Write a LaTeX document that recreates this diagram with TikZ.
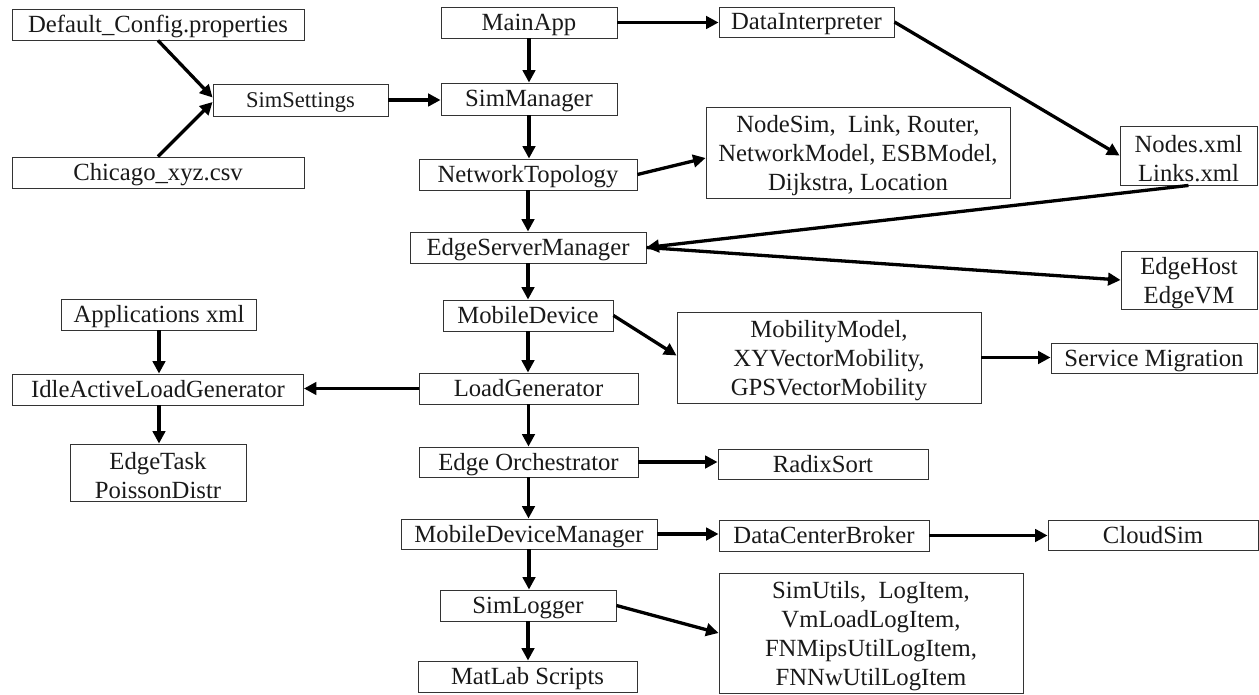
\documentclass[tikz,border=0pt]{standalone}
\usepackage{fontspec}
\setmainfont{Liberation Serif}
\usetikzlibrary{arrows.meta}
% strut that lowers the text block of the multi-line boxes a little
\newcommand{\topstrut}{\rule{0pt}{23pt}}
\begin{document}
\begin{tikzpicture}[x=1pt,y=-1pt,
  box/.style={draw=black!80, line width=0.9pt, inner sep=0pt, align=center,
    font=\fontsize{24.7}{29}\selectfont, text=black!90},
  one/.style={box, text height=18pt, text depth=2pt},
  arr/.style={line width=3.3pt, -{Triangle[length=12.5pt,width=12.5pt]}}]
\useasboundingbox (0,0) rectangle (1259,695);

% configuration inputs
\node[one, minimum width=292pt, minimum height=31pt] (dflt) at (158,24.5) {Default\_Config.properties};
\node[one, minimum width=292pt, minimum height=31pt] (chicago) at (158,172.5) {Chicago\_xyz.csv};
\node[one, minimum width=175pt, minimum height=32pt, font=\fontsize{22.5}{27}\selectfont] (simset) at (300.5,100) {SimSettings};

% main column
\node[one, minimum width=176pt, minimum height=31pt] (mainapp) at (529,22.5) {MainApp};
\node[one, minimum width=176pt, minimum height=32pt] (simmgr) at (529,99) {SimManager};
\node[one, minimum width=218pt, minimum height=31pt] (nettopo) at (528,174.5) {NetworkTopology};
\node[one, minimum width=236pt, minimum height=31pt] (esm) at (528,247.5) {EdgeServerManager};
\node[one, minimum width=170pt, minimum height=31pt] (mobdev) at (528,315.5) {MobileDevice};
\node[one, minimum width=219pt, minimum height=31pt] (loadgen) at (528.5,388.5) {LoadGenerator};
\node[one, minimum width=219pt, minimum height=30pt] (orch) at (528.5,462) {Edge Orchestrator};
\node[one, minimum width=256pt, minimum height=30pt] (mdm) at (529,534) {MobileDeviceManager};
\node[one, minimum width=176pt, minimum height=31pt] (simlog) at (528,605.5) {SimLogger};
\node[one, minimum width=219pt, minimum height=31pt] (matlab) at (527.5,676.5) {MatLab Scripts};

% right-hand side
\node[one, minimum width=175pt, minimum height=30pt] (datainterp) at (806.5,22) {DataInterpreter};
\node[box, minimum width=304pt, minimum height=91pt] (nodesim) at (858,152.5) {\topstrut NodeSim,\ \ Link, Router,\\NetworkModel, ESBModel,\\Dijkstra, Location};
\node[box, minimum width=137pt, minimum height=59pt] (nodesxml) at (1188.5,155.5) {\topstrut Nodes.xml\\Links.xml};
\node[box, minimum width=136pt, minimum height=58pt] (edgehost) at (1189,280) {\topstrut EdgeHost\\EdgeVM};
\node[box, minimum width=304pt, minimum height=91pt] (mobmodel) at (829,357.5) {\topstrut MobilityModel,\\XYVectorMobility,\\GPSVectorMobility};
\node[one, minimum width=206pt, minimum height=30pt] (servmig) at (1154,358) {Service Migration};
\node[one, minimum width=210pt, minimum height=30pt] (radix) at (823,464) {RadixSort};
\node[one, minimum width=210pt, minimum height=31pt] (dcb) at (824,535.5) {DataCenterBroker};
\node[one, minimum width=210pt, minimum height=30pt] (cloudsim) at (1153,535) {CloudSim};
\node[box, minimum width=304pt, minimum height=120pt] (simutils) at (871,633) {\topstrut SimUtils,\ \ LogItem,\\VmLoadLogItem,\\FNMipsUtilLogItem,\\FNNwUtilLogItem};

% load generation
\node[one, minimum width=195pt, minimum height=31pt] (apps) at (159,314.5) {Applications xml};
\node[one, minimum width=291pt, minimum height=31pt] (idle) at (158,389.5) {IdleActiveLoadGenerator};
\node[box, minimum width=176pt, minimum height=57pt] (edgetask) at (158,472.5) {\topstrut EdgeTask\\PoissonDistr};

% connectors
\draw[arr] (dflt.south) -- ([yshift=2.5pt]simset.west);
\draw[arr] (chicago.north) -- ([yshift=-2pt]simset.west);
\draw[arr] (simset.east) -- (simset.east -| simmgr.west);
\draw[arr] (mainapp.east) -- (mainapp.east -| datainterp.west);
\draw[arr] (mainapp.south) -- (simmgr.north);
\draw[arr] (simmgr.south) -- (simmgr.south |- nettopo.north);
\draw[arr] (nettopo.east) -- ([yshift=-5.5pt]nodesim.west);
\draw[arr] (datainterp.east) -- (nodesxml.west);
\draw[arr] (nodesxml.south) -- (esm.east);
\draw[arr] (esm.east) -- (edgehost.west);
\draw[arr] (nettopo.south) -- (esm.north);
\draw[arr] (esm.south) -- (mobdev.north);
\draw[arr] (mobdev.east) -- ([yshift=2pt]mobmodel.west);
\draw[arr] (mobmodel.east) -- (mobmodel.east -| servmig.west);
\draw[arr] (mobdev.south) -- (mobdev.south |- loadgen.north);
\draw[arr] (loadgen.west) -- (loadgen.west -| idle.east);
\draw[arr] (apps.south) -- (apps.south |- idle.north);
\draw[arr] (idle.south -| apps.south) -- (apps.south |- edgetask.north);
\draw[arr] (loadgen.south) -- (orch.north);
\draw[arr] (orch.east) -- (orch.east -| radix.west);
\draw[arr] (orch.south) -- (orch.south |- mdm.north);
\draw[arr] (mdm.east) -- (mdm.east -| dcb.west);
\draw[arr] (dcb.east) -- (dcb.east -| cloudsim.west);
\draw[arr] (mdm.south) -- (mdm.south |- simlog.north);
\draw[arr] (simlog.east) -- (simutils.west);
\draw[arr] (simlog.south) -- (simlog.south |- matlab.north);
\end{tikzpicture}
\end{document}
